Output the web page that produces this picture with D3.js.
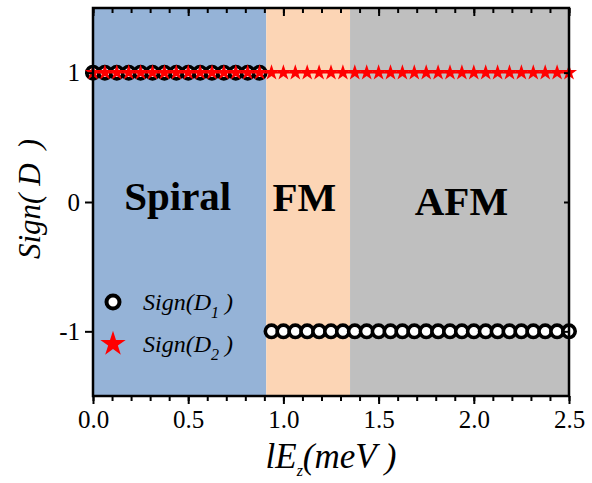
<!DOCTYPE html>
<html>
<head>
<meta charset="utf-8">
<script src="https://cdn.jsdelivr.net/npm/d3@7"></script>
<style>
  body { margin: 0; background: #fff; }
</style>
</head>
<body>
<svg id="chart" width="592" height="483"></svg>
<script>
// lE_z values (meV), step 0.0625
const energies = d3.range(0, 41).map(i => i * 0.0625);
const signD1 = [1, 1, 1, 1, 1, 1, 1, 1, 1, 1, 1, 1, 1, 1, 1,
  -1, -1, -1, -1, -1, -1, -1, -1, -1, -1, -1, -1, -1, -1, -1, -1, -1, -1, -1, -1, -1, -1, -1, -1, -1, -1];
const signD2 = [1, 1, 1, 1, 1, 1, 1, 1, 1, 1, 1, 1, 1, 1, 1, 1, 1, 1, 1, 1,
  1, 1, 1, 1, 1, 1, 1, 1, 1, 1, 1, 1, 1, 1, 1, 1, 1, 1, 1, 1, 1];
const phases = [
  { name: "Spiral", x0: 0, x1: 0.91, cx: 0.445, color: "#95b3d7" },
  { name: "FM", x0: 0.91, x1: 1.35, cx: 1.11, color: "#fcd5b5" },
  { name: "AFM", x0: 1.35, x1: 2.5, cx: 1.935, color: "#bfbfbf" }
];
const xTicks = [0, 0.5, 1.0, 1.5, 2.0, 2.5];
const yTicks = [-1, 0, 1];

const FONT = "Liberation Serif";
const svg = d3.select("#chart");
const margin = { left: 93, right: 23, top: 8, bottom: 87 };
const W = 592, H = 483;

const x = d3.scaleLinear().domain([0, 2.5]).range([margin.left, W - margin.right]);
const y = d3.scaleLinear().domain([-1.5, 1.5]).range([H - margin.bottom, margin.top]);

// phase backgrounds
svg.append("g").selectAll("rect").data(phases).join("rect")
  .attr("x", d => x(d.x0))
  .attr("width", d => x(d.x1) - x(d.x0))
  .attr("y", y(1.5))
  .attr("height", y(-1.5) - y(1.5))
  .attr("fill", d => d.color);

// phase labels
const baseShift = { Spiral: 8, FM: 9, AFM: 13 };
svg.append("g").selectAll("text").data(phases).join("text")
  .attr("x", d => x(d.cx))
  .attr("y", d => y(0) + baseShift[d.name])
  .attr("text-anchor", "middle")
  .attr("font-weight", "bold")
  .attr("font-size", 41)
  .text(d => d.name);

// series 1 circles
const pts = energies.map((e, i) => ({ e, s1: signD1[i], s2: signD2[i] }));

svg.append("g").selectAll("circle").data(pts).join("circle")
  .attr("cx", d => x(d.e))
  .attr("cy", d => y(d.s1))
  .attr("r", 6.2)
  .attr("fill", "#fff")
  .attr("stroke", "#000")
  .attr("stroke-width", 3.6);

// series 2 line + stars
svg.append("path")
  .datum(pts)
  .attr("fill", "none")
  .attr("stroke", "red")
  .attr("stroke-width", 1.5)
  .attr("d", d3.line().x(d => x(d.e)).y(d => y(d.s2)));

const star = d3.symbol().type(d3.symbolStar).size(80);
svg.append("g").selectAll("path").data(pts).join("path")
  .attr("transform", d => `translate(${x(d.e)},${y(d.s2)})`)
  .attr("d", star)
  .attr("fill", "red");

// axes
const minor = d3.range(0, 2.51, 0.1);
const bottomAxis = svg.append("g").attr("transform", `translate(0,${y(-1.5)})`);
bottomAxis.call(d3.axisBottom(x).tickValues(minor).tickSize(5).tickFormat(""));
bottomAxis.call(g => g.append("g").call(d3.axisBottom(x).tickValues(xTicks).tickSize(8).tickFormat(d3.format(".1f"))));

const topAxis = svg.append("g").attr("transform", `translate(0,${y(1.5)})`);
topAxis.call(d3.axisBottom(x).tickValues(minor).tickSize(5).tickFormat(""));
topAxis.call(g => g.append("g").call(d3.axisBottom(x).tickValues(xTicks).tickSize(8).tickFormat("")));

const leftAxis = svg.append("g").attr("transform", `translate(${x(0)},0)`);
leftAxis.call(d3.axisLeft(y).tickValues(yTicks).tickSize(8).tickFormat(d => d < 0 ? "-" + Math.abs(d) : String(d)));

const rightAxis = svg.append("g").attr("transform", `translate(${x(2.5)},0)`);
rightAxis.call(d3.axisLeft(y).tickValues(yTicks).tickSize(5).tickFormat(""));

bottomAxis.selectAll("text").attr("fill", "#000").attr("dy", "0.85em").attr("font-size", 25);
leftAxis.selectAll("text").attr("fill", "#000").attr("dx", "-2").attr("font-size", 25);

svg.selectAll(".domain").attr("stroke", "none");
svg.selectAll(".tick line").attr("stroke", "#000").attr("stroke-width", 2);

// frame
svg.append("rect")
  .attr("x", x(0)).attr("y", y(1.5))
  .attr("width", x(2.5) - x(0)).attr("height", y(-1.5) - y(1.5))
  .attr("fill", "none").attr("stroke", "#000").attr("stroke-width", 2.5);

// legend
const legend = svg.append("g");
legend.append("circle").attr("cx", 113).attr("cy", 302).attr("r", 6.5)
  .attr("fill", "#fff").attr("stroke", "#000").attr("stroke-width", 4);
legend.append("path").attr("transform", "translate(113,344)")
  .attr("d", d3.symbol().type(d3.symbolStar).size(200)).attr("fill", "red");
const legItems = [{ y: 310, sub: "1" }, { y: 352, sub: "2" }];
legItems.forEach(it => {
  const t = legend.append("text").attr("x", 143).attr("y", it.y)
    .attr("font-style", "italic").attr("font-size", 24);
  t.append("tspan").text("Sign(D");
  t.append("tspan").attr("font-size", 16).attr("dy", 8).text(it.sub);
  t.append("tspan").attr("dy", -8).text(" )");
});

// axis titles
const yl = svg.append("text")
  .attr("transform", `translate(40,${y(0) - 3}) rotate(-90)`)
  .attr("text-anchor", "middle")
  .attr("font-style", "italic").attr("font-size", 31);
yl.append("tspan").text("Sign(");
yl.append("tspan").attr("dx", 8).text("D");
yl.append("tspan").attr("dx", 14).text(")");

const xl = svg.append("text")
  .attr("x", x(1.25)).attr("y", 468)
  .attr("text-anchor", "middle")
  .attr("font-style", "italic").attr("font-size", 35);
xl.append("tspan").text("lE");
xl.append("tspan").attr("font-size", 16).attr("dy", 8).text("z");
xl.append("tspan").attr("dy", -8).text("(meV )");

svg.selectAll("text").attr("font-family", FONT);
</script>
</body>
</html>
